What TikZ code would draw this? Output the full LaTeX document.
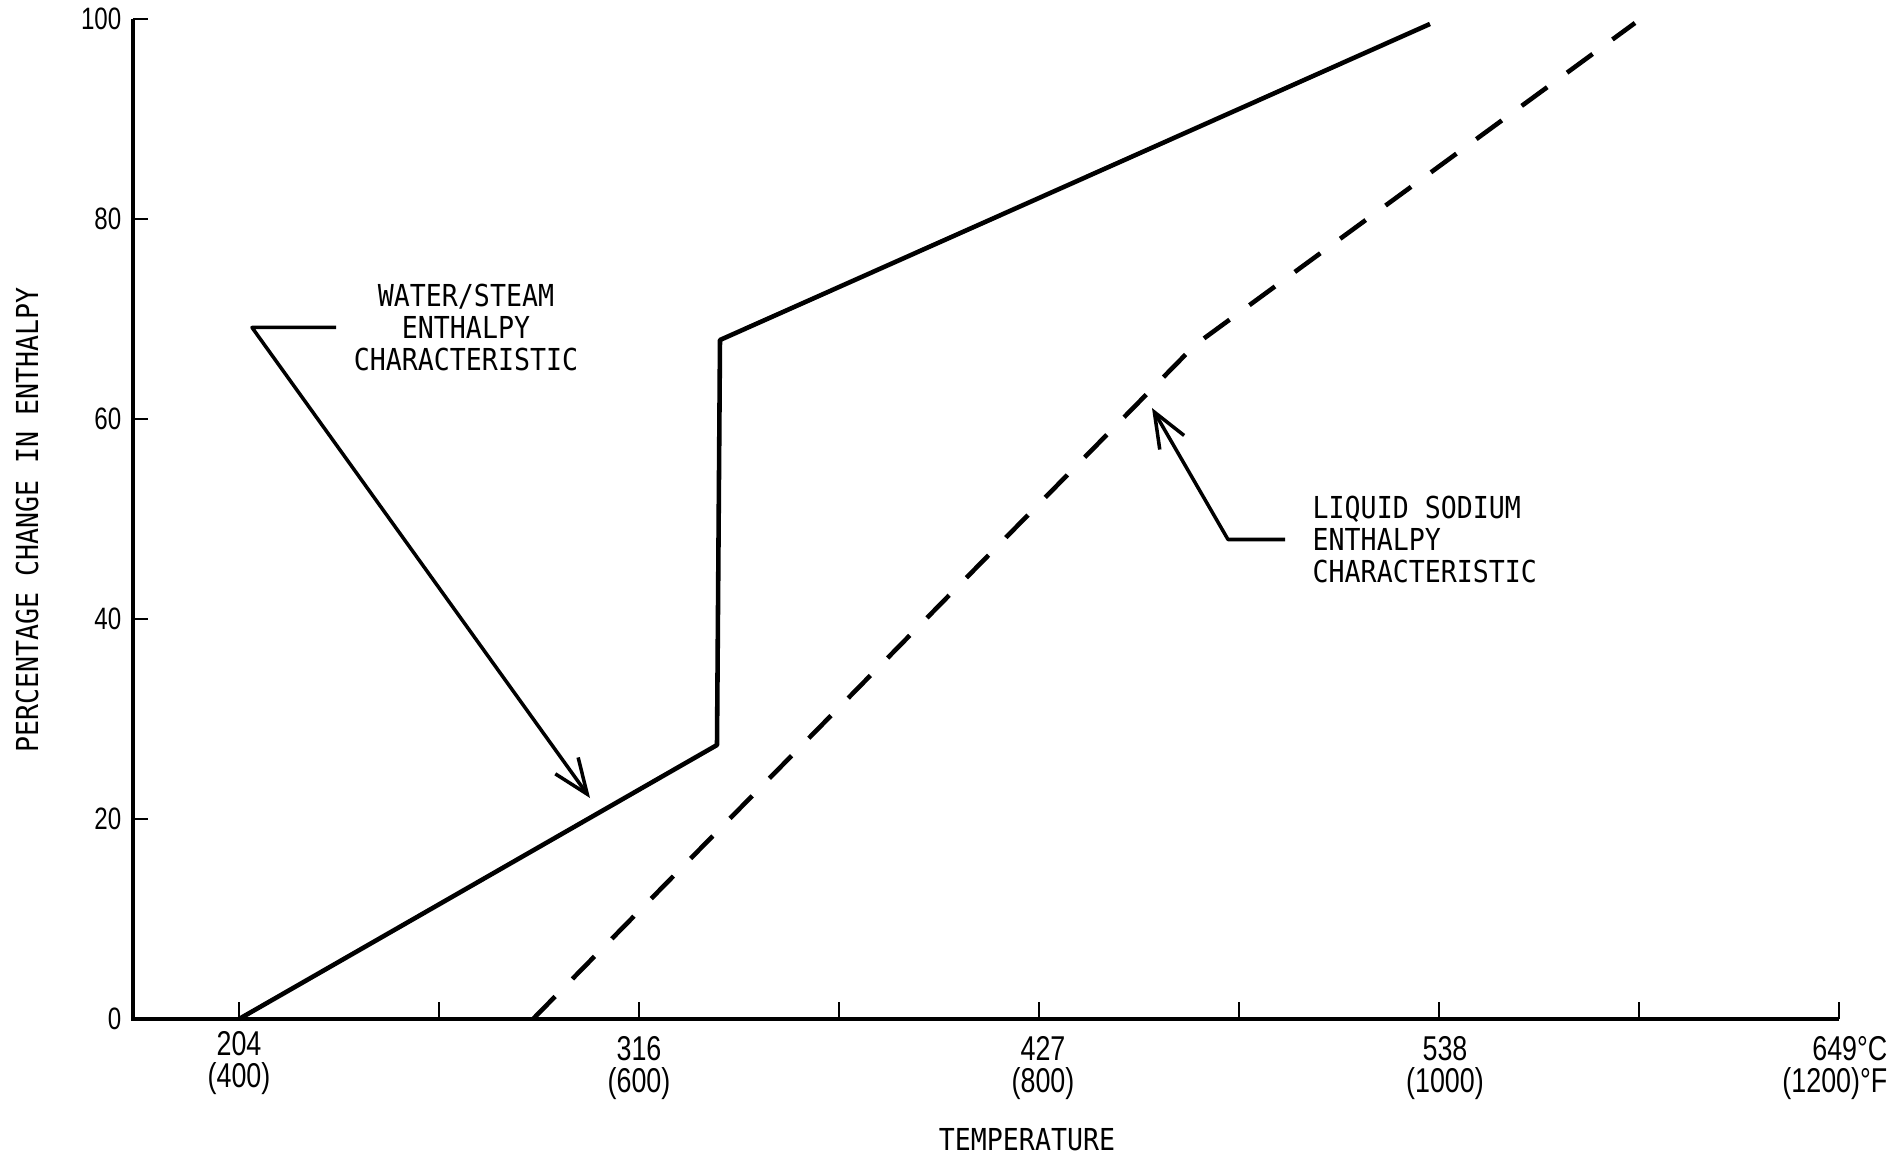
\documentclass[tikz,border=0pt]{standalone}
\usepackage{fontspec}
\newfontfamily\leroy[FakeStretch=0.88]{DejaVu Sans Mono}
\newfontfamily\leroynum[FakeStretch=0.78]{Liberation Sans}
\usetikzlibrary{arrows.meta}
\tikzset{
  kurve/.style={line width=1.3pt, line join=round},
  achse/.style={line width=1.2pt},
  strich/.style={line width=0.8pt},
  zeiger/.style={line width=1pt, line join=round, -{Straight Barb[length=10pt,width=8pt]}},
  beschriftung/.style={font=\leroy\fontsize{8.6}{9.2}\selectfont, inner sep=0pt},
  zahl/.style={font=\leroynum\fontsize{9.8}{9.2}\selectfont, inner sep=0pt},
  yzahl/.style={font=\leroynum\fontsize{8.8}{9}\selectfont, inner sep=0pt, anchor=east},
}
\begin{document}
\begin{tikzpicture}[x=2cm,y=0.1cm]
  \useasboundingbox (-1.195,-14.0) rectangle (8.28,101.9);
  % Achsen
  \coordinate (O) at (-0.53,0);
  \coordinate (ytop) at (-0.53,100);
  \coordinate (xend) at (8,0);
  \draw[achse] (ytop) -- (O) -- (xend);
  % Teilstriche
  \foreach \x in {0,...,8} \draw[strich] (\x,0) -- (\x,1.7);
  \foreach \y in {20,40,...,100} \draw[strich] (-0.53,\y) -- (-0.455,\y);
  % Skala Prozent
  \foreach \y in {0,20,...,100} \node[yzahl] (p\y) at (-0.585,\y) {\y};
  % Skala Temperatur
  \node[zahl, align=center, anchor=north] (t400) at (0,-1.15) {204\\(400)};
  \node[zahl, align=center, anchor=north] (t600) at (2,-1.65) {316\\(600)};
  \node[zahl, align=center, anchor=north] (t800) at (4.02,-1.65) {427\\(800)};
  \node[zahl, align=center, anchor=north] (t1000) at (6.03,-1.65) {538\\(1000)};
  \node[zahl, align=right, anchor=north east] (t1200) at (8.245,-1.65) {649°C\\(1200)°F};
  % Achsentitel
  \node[beschriftung, rotate=90] (ytitel) at (-1.06,49.9) {PERCENTAGE CHANGE IN ENTHALPY};
  \node[beschriftung] (xtitel) at (3.94,-12.1) {TEMPERATURE};
  % Wasser/Dampf
  \coordinate (w0) at (0,0);
  \coordinate (w1) at (2.39,27.4);
  \coordinate (w2) at (2.405,67.9);
  \coordinate (w3) at (5.955,99.5);
  \draw[kurve] (w0) -- (w1) -- (w2) -- (w3);
  % Natrium
  \coordinate (n0) at (1.47,0);
  \coordinate (n1) at (4.78,67.4);
  \coordinate (n2) at (6.98,99.6);
  \draw[kurve, dash pattern=on 9pt off 7pt] (n0) -- (n1) -- (n2);
  % Beschriftungen
  \node[beschriftung, align=center] (wasser) at (1.135,69.15)
    {WATER/STEAM\\ENTHALPY\\CHARACTERISTIC};
  \node[beschriftung, align=left, anchor=west] (natrium) at (5.365,47.95)
    {LIQUID SODIUM\\ENTHALPY\\CHARACTERISTIC};
  % Zeiger
  \coordinate (wknick) at (0.065,69.4);
  \coordinate (wspitze) at (1.755,22.1);
  \draw[zeiger, shorten <=0.17cm] (wasser.west) -- (wknick |- wasser.west) -- (wspitze);
  \coordinate (nknick) at (4.945,48.3);
  \coordinate (nspitze) at (4.565,61.1);
  \draw[zeiger, shorten <=0.27cm] (natrium.west) -- (nknick |- natrium.west) -- (nspitze);
\end{tikzpicture}
\end{document}
